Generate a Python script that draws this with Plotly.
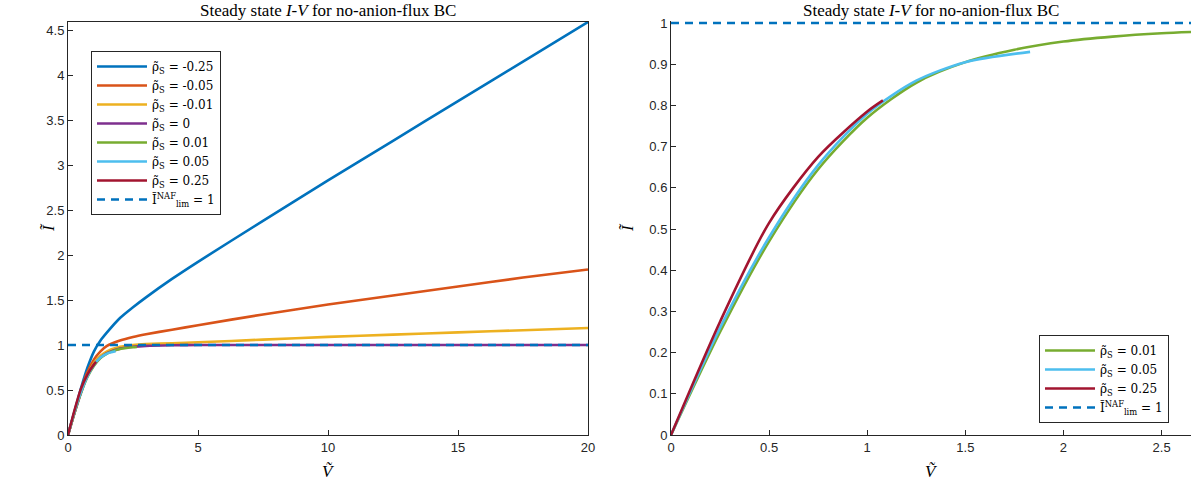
import plotly.graph_objects as go

# ---------------- data ----------------
V_neg = [0, 0.25, 0.5, 0.75, 1, 1.25, 1.5, 2, 2.5, 3, 4, 5, 7.5, 10, 12.5, 15, 17.5, 20]
I_m025 = [0, 0.26, 0.52, 0.75, 0.93, 1.05, 1.14, 1.30, 1.42, 1.53, 1.735, 1.925, 2.38, 2.83, 3.27, 3.71, 4.15, 4.59]
I_m005 = [0, 0.25, 0.50, 0.70, 0.84, 0.93, 0.99, 1.05, 1.09, 1.12, 1.17, 1.22, 1.34, 1.45, 1.55, 1.65, 1.75, 1.84]
I_m001 = [0, 0.245, 0.48, 0.67, 0.80, 0.88, 0.93, 0.98, 1.00, 1.01, 1.02, 1.03, 1.06, 1.09, 1.115, 1.14, 1.165, 1.19]
I_0 = [0, 0.245, 0.47, 0.66, 0.78, 0.86, 0.91, 0.96, 0.98, 0.99, 0.997, 1.0, 1.0, 1.0, 1.0, 1.0, 1.0, 1.0]

V_p001 = [0, 0.25, 0.5, 0.75, 1, 1.25, 1.5, 1.75, 2, 2.25, 2.5, 2.65]
I_p001 = [0, 0.25, 0.47, 0.645, 0.77, 0.855, 0.905, 0.935, 0.955, 0.967, 0.975, 0.978]
V_p005 = [0, 0.25, 0.5, 0.75, 1, 1.25, 1.5, 1.83]
I_p005 = [0, 0.26, 0.48, 0.655, 0.78, 0.86, 0.905, 0.93]
V_p025 = [0, 0.25, 0.5, 0.75, 1, 1.08]
I_p025 = [0, 0.275, 0.515, 0.675, 0.785, 0.812]

I_lim = 1
left_xlim = [0, 20]
left_ylim = [0, 4.59]
right_xlim = [0, 2.65]
right_ylim = [0, 1.005]

left_xticks = [0, 5, 10, 15, 20]
left_yticks = [0, 0.5, 1, 1.5, 2, 2.5, 3, 3.5, 4, 4.5]
right_xticks = [0, 0.5, 1, 1.5, 2, 2.5]
right_yticks = [0, 0.1, 0.2, 0.3, 0.4, 0.5, 0.6, 0.7, 0.8, 0.9, 1]

labels = ["-0.25", "-0.05", "-0.01", "0", "0.01", "0.05", "0.25"]
colors = ["#0072BD", "#D95319", "#EDB120", "#7E2F8E", "#77AC30", "#4DBEEE", "#A2142F"]

def rho_name(s):
    return "ρ̃<sub>S</sub> = " + s

lim_name = "Ĩ<sup>NAF</sup><sub>lim</sub> = 1"

fig = go.Figure()
LW = 2.6
DASH = "8px,6px"

left_series = [(V_neg, I_m025), (V_neg, I_m005), (V_neg, I_m001), (V_neg, I_0),
               (V_p001, I_p001), (V_p005, I_p005), (V_p025, I_p025)]
for (v, i), lab, c in zip(left_series, labels, colors):
    fig.add_trace(go.Scatter(x=v, y=i, mode="lines", name=rho_name(lab),
                             line=dict(color=c, width=LW, shape="spline", smoothing=0.6),
                             xaxis="x", yaxis="y", legend="legend"))
fig.add_trace(go.Scatter(x=left_xlim, y=[I_lim, I_lim], mode="lines", name=lim_name,
                         line=dict(color="#0072BD", width=LW, dash=DASH),
                         xaxis="x", yaxis="y", legend="legend"))

right_series = [(V_p001, I_p001), (V_p005, I_p005), (V_p025, I_p025)]
for (v, i), lab, c in zip(right_series, labels[4:], colors[4:]):
    fig.add_trace(go.Scatter(x=v, y=i, mode="lines", name=rho_name(lab),
                             line=dict(color=c, width=LW, shape="spline", smoothing=0.8),
                             xaxis="x2", yaxis="y2", legend="legend2"))
fig.add_trace(go.Scatter(x=right_xlim, y=[I_lim, I_lim], mode="lines", name=lim_name,
                         line=dict(color="#0072BD", width=LW, dash=DASH),
                         xaxis="x2", yaxis="y2", legend="legend2"))

W, H = 1193, 486
def fx(px):
    return px / W
def fy(py):
    return (H - py) / H

# right axes: value 1 sits at pixel row 23, value 0 at row 435
px_per_unit = (435 - 23) / 1.0
ytop2 = 435 - px_per_unit * right_ylim[1]
xdom2 = [fx(671), fx(1191)]
ydom2 = [fy(435), fy(ytop2)]

axcol = "#262626"
tickfont = dict(family="Liberation Sans, Arial, sans-serif", size=13, color=axcol)
common = dict(showgrid=False, zeroline=False, showline=True, linecolor=axcol, linewidth=1,
              ticks="inside", ticklen=5, tickcolor=axcol, tickfont=tickfont,
              automargin=False, layer="below traces")
serif = "DejaVu Serif, Liberation Serif, serif"
tserif = "Liberation Serif, Times New Roman, serif"

legfont = dict(family=serif, size=12, color="#000")
fig.update_layout(
    width=W, height=H,
    margin=dict(l=0, r=0, t=0, b=0),
    paper_bgcolor="white", plot_bgcolor="white",
    showlegend=True,
    xaxis=dict(domain=[fx(68), fx(588)], range=left_xlim, tickvals=left_xticks, anchor="y", mirror=True, **common),
    yaxis=dict(domain=[fy(435), fy(22)], range=left_ylim, tickvals=left_yticks, anchor="x", mirror=True, **common),
    xaxis2=dict(domain=xdom2, range=right_xlim, tickvals=right_xticks, anchor="y2", mirror=False, **common),
    yaxis2=dict(domain=ydom2, range=right_ylim, tickvals=right_yticks, anchor="x2", mirror=False, **common),
    legend=dict(x=fx(91), y=fy(51), xanchor="left", yanchor="top", bgcolor="white",
                bordercolor=axcol, borderwidth=1, font=legfont,
                itemwidth=50, tracegroupgap=0),
    legend2=dict(x=fx(1039), y=fy(423), xanchor="left", yanchor="bottom", bgcolor="white",
                 bordercolor=axcol, borderwidth=1, font=legfont,
                 itemwidth=50, tracegroupgap=0),
)

titles = [(fx(328), "Steady state <i>I</i>-<i>V</i> for no-anion-flux BC"),
          (fx(931), "Steady state <i>I</i>-<i>V</i> for no-anion-flux BC")]
for x, t in titles:
    fig.add_annotation(x=x, y=fy(11), xref="paper", yref="paper", text=t, showarrow=False,
                       font=dict(family=tserif, size=17, color="#000"), xanchor="center", yanchor="middle")
for x in [fx(328), fx(931)]:
    fig.add_annotation(x=x, y=fy(471), xref="paper", yref="paper", text="<i>Ṽ</i>", showarrow=False,
                       font=dict(family=tserif, size=17, color="#000"), xanchor="center", yanchor="middle")
for x in [fx(48), fx(627)]:
    fig.add_annotation(x=x, y=fy(228), xref="paper", yref="paper", text="<i>Ĩ</i>", showarrow=False,
                       textangle=-90, font=dict(family=tserif, size=17, color="#000"),
                       xanchor="center", yanchor="middle")

fig.write_html("out.html", config={"displayModeBar": False},
               post_script="document.body.style.margin='0';document.body.style.overflow='hidden';")
